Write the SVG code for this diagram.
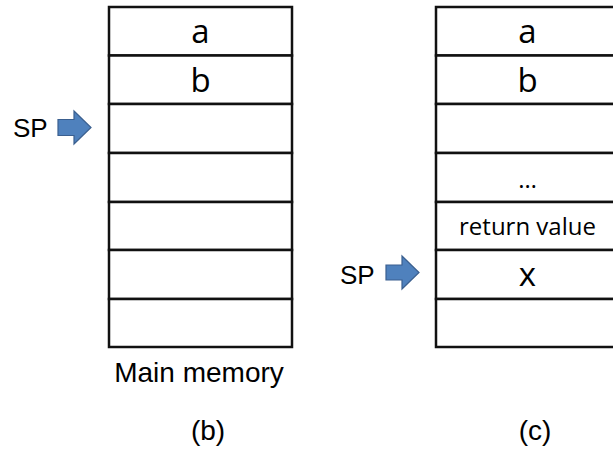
<svg xmlns="http://www.w3.org/2000/svg" width="613" height="451" viewBox="0 0 613 451">
<style>
.cell{fill:#fff;stroke:#111;stroke-width:2.5}
.big{font-family:"Open Sans","Noto Sans",sans-serif;font-size:33px;fill:#000;text-anchor:middle}
.small{font-family:"Open Sans","Noto Sans",sans-serif;font-size:24px;fill:#000;text-anchor:middle}
.lbl{font-family:"Liberation Sans",Arial,sans-serif;font-size:26px;fill:#000}
.cap{font-family:"Liberation Sans",Arial,sans-serif;font-size:28px;fill:#000;text-anchor:middle}
.arrow{fill:#4f81bd;stroke:#3a5f8f;stroke-width:1.2}
</style>
<rect width="613" height="451" fill="#fff"/>
<g id="memory-b">
<rect class="cell" x="109" y="7" width="183" height="48.5"/>
<rect class="cell" x="109" y="55.5" width="183" height="48.5"/>
<rect class="cell" x="109" y="104" width="183" height="49"/>
<rect class="cell" x="109" y="153" width="183" height="49"/>
<rect class="cell" x="109" y="202" width="183" height="48"/>
<rect class="cell" x="109" y="250" width="183" height="49"/>
<rect class="cell" x="109" y="299" width="183" height="48"/>
<text class="big" x="200.5" y="43">a</text>
<text class="big" x="200.5" y="92">b</text>
</g>
<g id="memory-c">
<rect class="cell" x="436" y="7" width="183" height="48.5"/>
<rect class="cell" x="436" y="55.5" width="183" height="48.5"/>
<rect class="cell" x="436" y="104" width="183" height="49"/>
<rect class="cell" x="436" y="153" width="183" height="49"/>
<rect class="cell" x="436" y="202" width="183" height="48"/>
<rect class="cell" x="436" y="250" width="183" height="49"/>
<rect class="cell" x="436" y="299" width="183" height="48"/>
<text class="big" x="527.5" y="43">a</text>
<text class="big" x="527.5" y="92">b</text>
<text class="small" x="527.5" y="188">…</text>
<text class="small" x="527.5" y="235">return value</text>
<text class="big" x="527.5" y="286">x</text>
</g>
<g id="sp-b">
<text class="lbl" x="13" y="137">SP</text>
<path class="arrow" d="M58,119.5 H74 V111 L91,127.5 L74,144 V135.5 H58 Z"/>
</g>
<g id="sp-c">
<text class="lbl" x="340" y="284">SP</text>
<path class="arrow" d="M386,265 H402 V256 L419,272.5 L402,289 V280 H386 Z"/>
</g>
<g id="captions">
<text class="cap" x="199" y="382">Main memory</text>
<text class="cap" x="208" y="440">(b)</text>
<text class="cap" x="535" y="440">(c)</text>
</g>
<g id="connectors"></g>
</svg>
